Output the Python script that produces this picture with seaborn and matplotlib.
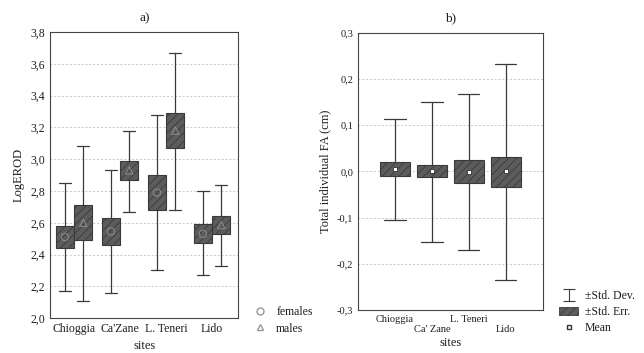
import numpy as np
import pandas as pd
import seaborn as sns
import matplotlib.pyplot as plt
from matplotlib.lines import Line2D
from matplotlib.patches import Patch
from matplotlib.path import Path
from matplotlib.ticker import FuncFormatter

# ---- panel a) LogEROD by site and sex (mean, +-SE box, +-SD whiskers)
sites_a = ["Chioggia", "Ca'Zane", "L. Teneri", "Lido"]
fem_mean = [2.51, 2.545, 2.79, 2.53]
fem_se_lo = [2.44, 2.46, 2.68, 2.47]
fem_se_hi = [2.58, 2.63, 2.90, 2.59]
fem_sd_lo = [2.17, 2.16, 2.30, 2.27]
fem_sd_hi = [2.85, 2.93, 3.28, 2.80]
mal_mean = [2.60, 2.93, 3.18, 2.585]
mal_se_lo = [2.49, 2.87, 3.07, 2.53]
mal_se_hi = [2.71, 2.99, 3.29, 2.64]
mal_sd_lo = [2.11, 2.67, 2.68, 2.33]
mal_sd_hi = [3.08, 3.18, 3.67, 2.84]

# ---- panel b) Total individual FA by site
sites_b = ["Chioggia", "Ca' Zane", "L. Teneri", "Lido"]
fa_mean = [0.005, 0.0, -0.001, 0.0]
fa_se_lo = [-0.011, -0.012, -0.025, -0.033]
fa_se_hi = [0.021, 0.014, 0.025, 0.032]
fa_sd_lo = [-0.105, -0.152, -0.170, -0.235]
fa_sd_hi = [0.113, 0.151, 0.168, 0.233]

sns.set_style("white")
plt.rcParams["font.family"] = ["Liberation Serif", "DejaVu Serif"]
plt.rcParams["hatch.linewidth"] = 0.6

BOX_FC = "#5c5c5c"
BOX_EC = "#3a3a3a"
LINE = "#3a3a3a"
TXT = "#1e1e1e"
comma = FuncFormatter(lambda v, p: f"{v:.1f}".replace(".", ","))


def make_stats(mean, lo, hi, wlo, whi):
    return [dict(med=m, mean=m, q1=a, q3=b, whislo=c, whishi=d, fliers=[])
            for m, a, b, c, d in zip(mean, lo, hi, wlo, whi)]


def draw_boxes(ax, stats, pos, width, capw):
    ax.bxp(stats, positions=pos, widths=width, showfliers=False,
           patch_artist=True, manage_ticks=False, capwidths=capw,
           boxprops=dict(facecolor=BOX_FC, edgecolor=BOX_EC, hatch="////", linewidth=0.8),
           whiskerprops=dict(color=LINE, linewidth=0.9),
           capprops=dict(color=LINE, linewidth=0.9),
           medianprops=dict(linewidth=0))


def style_axes(ax):
    for s in ax.spines.values():
        s.set_color("#444444")
        s.set_linewidth(0.8)
    ax.yaxis.grid(True, linestyle=(0, (2, 2)), color="#c8c8c8", linewidth=0.7)
    ax.set_axisbelow(True)
    ax.yaxis.set_major_formatter(comma)
    ax.tick_params(axis="both", length=0, colors=TXT)


fig = plt.figure(figsize=(6.44, 3.53), dpi=100)
ax1 = fig.add_axes([0.078, 0.099, 0.292, 0.810])
ax2 = fig.add_axes([0.556, 0.122, 0.287, 0.785])

# panel a
idx = np.arange(len(sites_a))
off = 0.2
draw_boxes(ax1, make_stats(fem_mean, fem_se_lo, fem_se_hi, fem_sd_lo, fem_sd_hi),
           idx - off, 0.39, 0.26)
draw_boxes(ax1, make_stats(mal_mean, mal_se_lo, mal_se_hi, mal_sd_lo, mal_sd_hi),
           idx + off, 0.39, 0.26)
df_a = pd.DataFrame({
    "pos": np.concatenate([idx - off, idx + off]),
    "mean": fem_mean + mal_mean,
    "sex": ["females"] * 4 + ["males"] * 4,
})
sns.scatterplot(data=df_a, x="pos", y="mean", style="sex",
                markers={"females": "o", "males": "^"}, s=28,
                color="#8a8a8a", legend=False, ax=ax1, zorder=5)
for coll in ax1.collections:
    coll.set_facecolor("none")
    coll.set_edgecolor("#8e8e8e")
    coll.set_linewidth(0.7)
ax1.set_xlim(-0.52, 3.57)
ax1.set_ylim(2.0, 3.8)
ax1.set_yticks(np.arange(2.0, 3.81, 0.2))
ax1.set_xticks(idx)
ax1.set_xticklabels(sites_a)
style_axes(ax1)
ax1.tick_params(axis="both", labelsize=8.5)
ax1.set_xlabel("sites", fontsize=9, color=TXT, labelpad=4)
ax1.set_ylabel("LogEROD", fontsize=9, color=TXT)
ax1.set_title("a)", fontsize=9.5, color=TXT, pad=8)
hand_a = [
    Line2D([], [], marker="o", linestyle="none", markerfacecolor="none",
           markeredgecolor="#999999", markersize=5),
    Line2D([], [], marker="^", linestyle="none", markerfacecolor="none",
           markeredgecolor="#999999", markersize=5),
]
ax1.legend(hand_a, ["females", "males"], loc="lower left",
           bbox_to_anchor=(1.02, -0.095), frameon=False, fontsize=8.5,
           handlelength=1.2, handletextpad=0.8, labelspacing=0.4,
           labelcolor=TXT)

# panel b
idx_b = np.arange(len(sites_b))
draw_boxes(ax2, make_stats(fa_mean, fa_se_lo, fa_se_hi, fa_sd_lo, fa_sd_hi),
           idx_b, 0.8, 0.57)
df_b = pd.DataFrame({"pos": idx_b, "mean": fa_mean})
sns.scatterplot(data=df_b, x="pos", y="mean", marker="s", s=9,
                color="white", edgecolor="#333333", linewidth=0.6,
                legend=False, ax=ax2, zorder=5)
ax2.set_xlim(-1.0, 4.0)
ax2.set_ylim(-0.3, 0.3)
ax2.set_yticks(np.arange(-0.3, 0.31, 0.1))
ax2.set_xticks(idx_b)
ax2.set_xticklabels([s if i % 2 == 0 else "\n" + s for i, s in enumerate(sites_b)])
style_axes(ax2)
ax2.tick_params(axis="both", labelsize=7.5)
ax2.set_xlabel("sites", fontsize=9, color=TXT, labelpad=2)
ax2.set_ylabel("Total individual FA (cm)", fontsize=9, color=TXT)
ax2.set_title("b)", fontsize=9.5, color=TXT, pad=8)

ibar = Path([(-1, 1), (1, 1), (0, 1), (0, -1), (-1, -1), (1, -1)],
            [Path.MOVETO, Path.LINETO, Path.MOVETO, Path.LINETO, Path.MOVETO, Path.LINETO])
hand_b = [
    Line2D([], [], marker=ibar, linestyle="none", color=LINE, markersize=9,
           markeredgewidth=0.8),
    Patch(facecolor=BOX_FC, edgecolor=BOX_EC, hatch="////", linewidth=0.6),
    Line2D([], [], marker="s", linestyle="none", markerfacecolor="white",
           markeredgecolor="#333333", markersize=3.5),
]
ax2.legend(hand_b, ["\u00b1Std. Dev.", "\u00b1Std. Err.", "Mean"], loc="lower left",
           bbox_to_anchor=(1.03, -0.125), frameon=False, fontsize=8.5,
           handlelength=1.6, handletextpad=0.6, labelspacing=0.35,
           labelcolor=TXT)

fig.savefig("out.png", dpi=100)
